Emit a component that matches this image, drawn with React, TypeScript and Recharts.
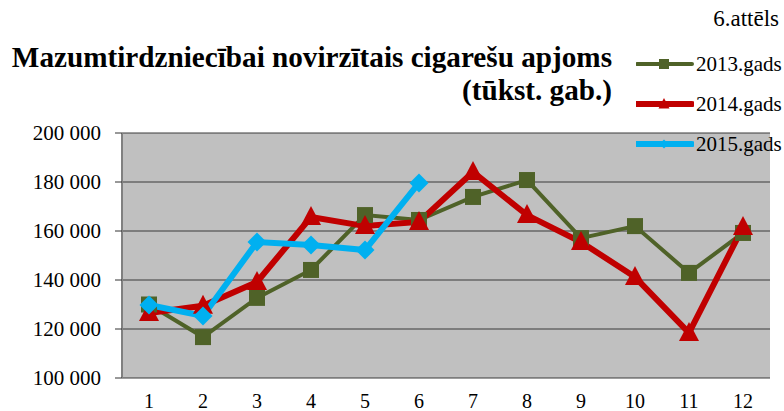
import React from 'react';
import {
  LineChart,
  Line,
  XAxis,
  YAxis,
  CartesianGrid,
} from 'recharts';

const months = [1, 2, 3, 4, 5, 6, 7, 8, 9, 10, 11, 12];
const monthEdges = [0.5, 1.5, 2.5, 3.5, 4.5, 5.5, 6.5, 7.5, 8.5, 9.5, 10.5, 11.5, 12.5];
const values2013 = [130000, 116700, 132700, 144100, 166500, 164500, 173900, 180800, 157100, 162000, 142900, 159200];
const values2014 = [126500, 129500, 139200, 165700, 162000, 163700, 184100, 166500, 155500, 141200, 118400, 161600];
const values2015 = [129800, 125300, 155500, 154300, 152200, 179600];
const yTicks = [100000, 120000, 140000, 160000, 180000, 200000];
const seriesNames = ['2013.gads', '2014.gads', '2015.gads'];

const data = months.map((m, i) => ({
  month: m,
  y2013: values2013[i],
  y2014: values2014[i],
  y2015: i < values2015.length ? values2015[i] : null,
}));

const FONT = '"Liberation Serif", "Times New Roman", serif';
const GREEN = '#4F6228';
const RED = '#C00000';
const BLUE = '#00B0F0';

const fmt = (v: number) => String(v).replace(/\B(?=(\d{3})+(?!\d))/g, ' ');

const Square = ({ cx, cy, s = 14, fill }: any) =>
  cx == null || cy == null ? null : <rect x={cx - s / 2} y={cy - s / 2} width={s} height={s} fill={fill} />;

const Triangle = ({ cx, cy, s = 18, fill }: any) =>
  cx == null || cy == null ? null : (
    <path d={`M${cx},${cy - s * 0.55} L${cx + s / 2},${cy + s * 0.4} L${cx - s / 2},${cy + s * 0.4} Z`} fill={fill} />
  );

const Diamond = ({ cx, cy, s = 18, fill }: any) =>
  cx == null || cy == null ? null : (
    <path d={`M${cx},${cy - s / 2} L${cx + s / 2},${cy} L${cx},${cy + s / 2} L${cx - s / 2},${cy} Z`} fill={fill} />
  );

const legendItems = [
  { name: seriesNames[0], color: GREEN, width: 4, Marker: Square, size: 10 },
  { name: seriesNames[1], color: RED, width: 6, Marker: Triangle, size: 11 },
  { name: seriesNames[2], color: BLUE, width: 6, Marker: Diamond, size: 9 },
];

const ChartLegend = () => (
  <div style={{ position: 'absolute', left: 636, top: 44, fontFamily: FONT, fontSize: 21, color: '#000' }}>
    {legendItems.map((it) => (
      <div key={it.name} style={{ display: 'flex', alignItems: 'center', height: 40 }}>
        <svg width={58} height={20} style={{ marginRight: 2 }}>
          <line x1={1} y1={10} x2={56} y2={10} stroke={it.color} strokeWidth={it.width} strokeLinecap="round" />
          <it.Marker cx={28} cy={10} s={it.size} fill={it.color} />
        </svg>
        <span>{it.name}</span>
      </div>
    ))}
  </div>
);

const textStyle = { fontFamily: FONT, fontSize: 21, fill: '#000' };

const YTick = ({ x, y, payload }: any) => (
  <text x={x} y={y} textAnchor="end" dy="0.35em" style={textStyle}>
    {fmt(payload.value)}
  </text>
);

const XTick = ({ x, y, payload }: any) => (
  <text x={x} y={y} textAnchor="middle" dy="0.71em" style={{ ...textStyle, fontSize: 20 }}>
    {payload.value}
  </text>
);

export default function App() {
  return (
    <div style={{ position: 'absolute', left: 0, top: 0, width: 784, height: 411, background: '#fff', fontFamily: FONT }}>
      <LineChart
        width={784}
        height={411}
        data={data}
        margin={{ top: 133, right: 14, bottom: 0, left: 0 }}
      >
        <CartesianGrid xAxisId="lbl" yAxisId="l" vertical={false} fill="#C0C0C0" stroke="#3a3a3a" />
        <XAxis
          xAxisId="tk"
          dataKey="month"
          type="number"
          domain={[0.5, 12.5]}
          ticks={monthEdges}
          tick={false}
          tickSize={7}
          height={0}
          axisLine={{ stroke: '#333', strokeWidth: 1 }}
          tickLine={{ stroke: '#333' }}
        />
        <XAxis
          xAxisId="lbl"
          dataKey="month"
          type="number"
          domain={[0.5, 12.5]}
          ticks={months}
          axisLine={false}
          tickLine={false}
          tickSize={0}
          tickMargin={16}
          height={33}
          tick={<XTick />}
        />
        <YAxis
          yAxisId="l"
          domain={[100000, 200000]}
          ticks={yTicks}
          tickFormatter={fmt}
          width={122}
          tickSize={7}
          tickMargin={14}
          axisLine={{ stroke: '#808080', strokeWidth: 2 }}
          tickLine={{ stroke: '#333' }}
          tick={<YTick />}
        />
        <YAxis
          yAxisId="r"
          orientation="right"
          domain={[100000, 200000]}
          width={0}
          tick={false}
          tickLine={false}
          axisLine={{ stroke: '#808080', strokeWidth: 2 }}
        />
        <Line
          xAxisId="lbl"
          yAxisId="l"
          dataKey="y2013"
          name={seriesNames[0]}
          stroke={GREEN}
          strokeWidth={4}
          dot={(p: any) => <Square key={`s${p.index}`} cx={p.cx} cy={p.cy} s={16} fill={GREEN} />}
          isAnimationActive={false}
        />
        <Line
          xAxisId="lbl"
          yAxisId="l"
          dataKey="y2014"
          name={seriesNames[1]}
          stroke={RED}
          strokeWidth={6}
          dot={(p: any) => <Triangle key={`t${p.index}`} cx={p.cx} cy={p.cy} s={20} fill={RED} />}
          isAnimationActive={false}
        />
        <Line
          xAxisId="lbl"
          yAxisId="l"
          dataKey="y2015"
          name={seriesNames[2]}
          stroke={BLUE}
          strokeWidth={6}
          connectNulls={false}
          dot={(p: any) => <Diamond key={`d${p.index}`} cx={p.cx} cy={p.cy} s={19} fill={BLUE} />}
          isAnimationActive={false}
        />
      </LineChart>
      <ChartLegend />
      <div
        style={{
          position: 'absolute',
          right: 5,
          top: 6,
          fontSize: 23,
          color: '#000',
        }}
      >
        6.attēls
      </div>
      <div
        style={{
          position: 'absolute',
          right: 784 - 612,
          top: 41,
          fontSize: 29.2,
          fontWeight: 'bold',
          lineHeight: '33px',
          textAlign: 'right',
          color: '#000',
          whiteSpace: 'nowrap',
        }}
      >
        Mazumtirdzniecībai novirzītais cigarešu apjoms
        <br />
        (tūkst. gab.)
      </div>
    </div>
  );
}
